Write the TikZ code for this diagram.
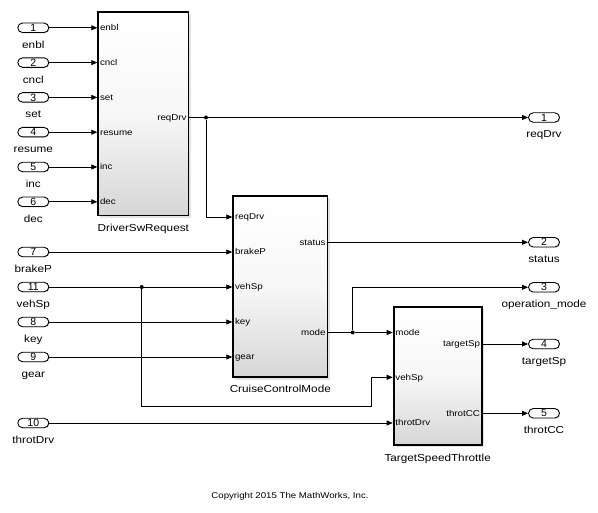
\documentclass[tikz,border=0pt]{standalone}
\usepackage{fontspec}
\setmainfont{Liberation Sans}[FakeStretch=1.15]
\newfontfamily\numfont{Liberation Sans}
\usetikzlibrary{arrows.meta,shapes.misc,calc,shadows}
\begin{document}
\begin{tikzpicture}[x=1pt,y=-1pt,
  port/.style={rounded rectangle, draw, fill=white, line width=0.9pt,
    minimum width=31pt, minimum height=9.5pt, inner sep=0pt,
    font=\numfont\fontsize{10.5}{10}\selectfont,
    drop shadow={shadow xshift=1pt,shadow yshift=-1pt,opacity=0.18}},
  plbl/.style={font=\fontsize{10.2}{11}\selectfont, anchor=base, inner sep=0pt},
  blk/.style={draw, line width=1.8pt, top color=white, bottom color=black!16,
    middle color=black!3,
    inner sep=0pt, anchor=north west,
    drop shadow={shadow xshift=2.2pt,shadow yshift=-2.2pt,opacity=0.22}},
  blklbl/.style={font=\fontsize{10.2}{11}\selectfont, anchor=base, inner sep=0pt},
  pin/.style={font=\fontsize{8.5}{9}\selectfont, anchor=base west, inner sep=0pt,
    xshift=2.5pt, yshift=-3pt},
  pout/.style={font=\fontsize{8.5}{9}\selectfont, anchor=base east, inner sep=0pt,
    xshift=-2.5pt, yshift=-3pt},
  sig/.style={line width=0.8pt, -{Triangle[length=6pt,width=5pt]}},
  wire/.style={line width=0.8pt},
  jdot/.style={circle, fill, inner sep=0pt, minimum size=4pt}]
\useasboundingbox (0,0) rectangle (598,513);

% blocks
\node[blk, minimum width=90.2pt, minimum height=203.2pt] (dsr) at (97.3,11.5) {};
\node[blk, minimum width=94.2pt, minimum height=181.5pt] (ccm) at (232.3,195) {};
\node[blk, minimum width=88.2pt, minimum height=138.2pt] (tst) at (392.7,306) {};
\node[blklbl] (dsrL) at ($(dsr.south)+(0,15)$) {DriverSwRequest};
\node[blklbl] (ccmL) at ($(ccm.south)+(0,14)$) {CruiseControlMode};
\node[blklbl] (tstL) at ($(tst.south)+(0,15)$) {TargetSpeedThrottle};

% inports
\node[port] (i1) at (33.3,27.8) {1};
\node[port] (i2) at (33.3,62.6) {2};
\node[port] (i3) at (33.3,97.4) {3};
\node[port] (i4) at (33.3,132.2) {4};
\node[port] (i5) at (33.3,167) {5};
\node[port] (i6) at (33.3,201.8) {6};
\node[port] (i7) at (33.3,252) {7};
\node[port] (i11) at (33.3,287) {11};
\node[port] (i8) at (33.3,322) {8};
\node[port] (i9) at (33.3,357) {9};
\node[port] (i10) at (33.3,423) {10};
\node[plbl] (i1L) at ($(i1)+(0,20.5)$) {enbl};
\node[plbl] (i2L) at ($(i2)+(0,20.5)$) {cncl};
\node[plbl] (i3L) at ($(i3)+(0,20.5)$) {set};
\node[plbl] (i4L) at ($(i4)+(0,20.5)$) {resume};
\node[plbl] (i5L) at ($(i5)+(0,20.5)$) {inc};
\node[plbl] (i6L) at ($(i6)+(0,20.5)$) {dec};
\node[plbl] (i7L) at ($(i7)+(0,20.5)$) {brakeP};
\node[plbl] (i11L) at ($(i11)+(0,20.5)$) {vehSp};
\node[plbl] (i8L) at ($(i8)+(0,20.5)$) {key};
\node[plbl] (i9L) at ($(i9)+(0,20.5)$) {gear};
\node[plbl] (i10L) at ($(i10)+(0,20.5)$) {throtDrv};

% outports
\node[port] (o1) at (544,117.5) {1};
\node[port] (o2) at (544,242.3) {2};
\node[port] (o3) at (544,287.3) {3};
\node[port] (o4) at (544,344) {4};
\node[port] (o5) at (544,413.3) {5};
\node[plbl] (o1L) at ($(o1)+(0,20.5)$) {reqDrv};
\node[plbl] (o2L) at ($(o2)+(0,20.5)$) {status};
\node[plbl] (o3L) at ($(o3)+(0,20.5)$) {operation\_mode};
\node[plbl] (o4L) at ($(o4)+(0,20.5)$) {targetSp};
\node[plbl] (o5L) at ($(o5)+(0,20.5)$) {throtCC};

% junctions and bend points
\node[jdot] (jr) at (206,117.5) {};
\node[jdot] (jm) at (352.7,332.5) {};
\node[jdot] (jv) at (141.7,287) {};
\coordinate (ccmI1) at (232.3,217);
\coordinate (bendV) at (371.7,406.7);
\coordinate (tstV) at (392.7,377.3);
\coordinate (ccmS) at (328.3,242.3);

% block port labels
\node[pin] (p1) at (dsr.west |- i1) {enbl};
\node[pin] (p2) at (dsr.west |- i2) {cncl};
\node[pin] (p3) at (dsr.west |- i3) {set};
\node[pin] (p4) at (dsr.west |- i4) {resume};
\node[pin] (p5) at (dsr.west |- i5) {inc};
\node[pin] (p6) at (dsr.west |- i6) {dec};
\node[pout] (p7) at (dsr.east |- jr) {reqDrv};
\node[pin] (q1) at (ccmI1) {reqDrv};
\node[pin] (q2) at (ccm.west |- i7) {brakeP};
\node[pin] (q3) at (ccm.west |- i11) {vehSp};
\node[pin] (q4) at (ccm.west |- i8) {key};
\node[pin] (q5) at (ccm.west |- i9) {gear};
\node[pout] (q6) at (ccmS) {status};
\node[pout] (q7) at (ccm.east |- jm) {mode};
\node[pin] (r1) at (tst.west |- jm) {mode};
\node[pin] (r2) at (tstV) {vehSp};
\node[pin] (r3) at (tst.west |- i10) {throtDrv};
\node[pout] (r4) at (tst.east |- o4) {targetSp};
\node[pout] (r5) at (tst.east |- o5) {throtCC};

% connectors
\foreach \p in {i1,i2,i3,i4,i5,i6}
  \draw[sig] (\p.east) -- (\p -| dsr.west);
\foreach \p in {i7,i11,i8,i9}
  \draw[sig] (\p.east) -- (\p -| ccm.west);
\draw[sig] (i10.east) -- (i10 -| tst.west);
\draw[wire] (dsr.east |- jr) -- (jr);
\draw[sig] (jr) -- (o1.west);
\draw[sig] (jr) |- (ccmI1);
\draw[sig] (ccmS) -- (o2.west);
\draw[wire] (ccm.east |- jm) -- (jm);
\draw[sig] (jm) -- (jm -| tst.west);
\draw[sig] (jm) |- (o3.west);
\draw[sig] (jv) |- (bendV) |- (tstV);
\draw[sig] (tst.east |- o4) -- (o4.west);
\draw[sig] (tst.east |- o5) -- (o5.west);

\node[font=\fontsize{8.4}{9}\selectfont, anchor=base, inner sep=0pt] (copy) at (290,498) {Copyright 2015 The MathWorks, Inc.};
\end{tikzpicture}
\end{document}
